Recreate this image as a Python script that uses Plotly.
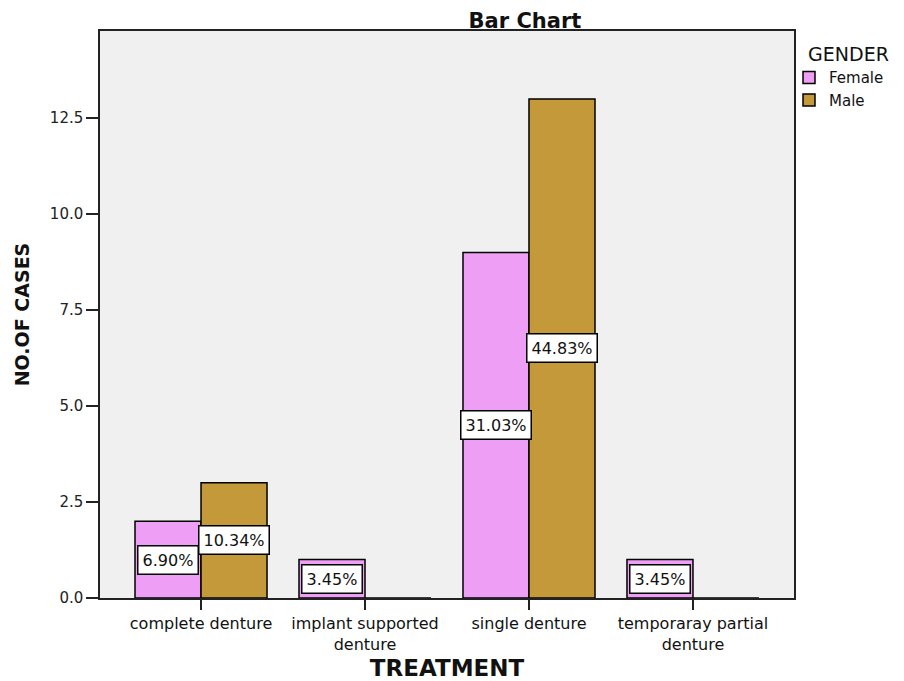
import plotly.graph_objects as go

categories = ["complete denture", "implant supported denture", "single denture", "temporaray partial denture"]
tick_labels = ["complete denture", "implant supported<br>denture", "single denture", "temporaray partial<br>denture"]
female = [2, 1, 9, 1]
male = [3, 0, 13, 0]
female_pct = ["6.90%", "3.45%", "31.03%", "3.45%"]
male_pct = ["10.34%", None, "44.83%", None]
y_ticks = [0, 2.5, 5, 7.5, 10, 12.5]

FONT = "DejaVu Sans"
FEMALE_COLOR = "#EF9EF5"
MALE_COLOR = "#C4993A"

# the page adds an 8px body margin, so the figure is 8px smaller on each axis
W, H = 896, 673

fig = go.Figure()
fig.add_trace(go.Bar(x=categories, y=female, name="Female",
                     marker=dict(color=FEMALE_COLOR, line=dict(color="black", width=1.5))))
fig.add_trace(go.Bar(x=categories, y=male, name="Male",
                     marker=dict(color=MALE_COLOR, line=dict(color="black", width=1.5))))

annotations = []
for cat, v, t in zip(categories, female, female_pct):
    if t:
        annotations.append(dict(x=cat, y=v / 2, xref="x", yref="y", xshift=-33, text=t,
                                showarrow=False, bgcolor="white", bordercolor="black",
                                borderwidth=1.5, borderpad=4,
                                font=dict(family=FONT, size=16, color="#111")))
for cat, v, t in zip(categories, male, male_pct):
    if t:
        annotations.append(dict(x=cat, y=v / 2, xref="x", yref="y", xshift=33, text=t,
                                showarrow=False, bgcolor="white", bordercolor="black",
                                borderwidth=1.5, borderpad=4,
                                font=dict(family=FONT, size=16, color="#111")))

fig.update_layout(
    width=W, height=H,
    margin=dict(l=92, r=110, t=23, b=83),
    paper_bgcolor="white",
    plot_bgcolor="#F0F0F0",
    barmode="group",
    bargap=0.195,
    bargroupgap=0,
    font=dict(family=FONT, color="#111"),
    title=dict(text="<b>Bar Chart</b>", x=517 / W, xanchor="center",
               y=1 - 13 / H, yanchor="middle", yref="container",
               font=dict(family=FONT, size=21, color="#111")),
    legend=dict(title=dict(text="\u00a0\u00a0GENDER", font=dict(family=FONT, size=19, color="#111")),
                x=1.0, xanchor="left", y=0.99, yanchor="top",
                indentation=-5,
                font=dict(family=FONT, size=15, color="#111"),
                bgcolor="rgba(0,0,0,0)", traceorder="normal"),
    annotations=annotations,
    xaxis=dict(
        type="category", categoryorder="array", categoryarray=categories,
        tickvals=categories, ticktext=tick_labels,
        range=[-0.616, 3.616],
        showline=True, linecolor="#222", linewidth=1.5, mirror=True,
        ticks="outside", ticklen=10, tickwidth=1.5, tickcolor="#222",
        showgrid=False, zeroline=False,
        tickfont=dict(family=FONT, size=16, color="#111"),
        title=dict(text="<b>TREATMENT</b>",
                   font=dict(family=FONT, size=23, color="#111")),
        automargin=False,
    ),
    yaxis=dict(
        range=[0, 14.77],
        tickvals=y_ticks, tickformat=".1f",
        showline=True, linecolor="#222", linewidth=1.5, mirror=True,
        ticks="outside", ticklen=12, tickwidth=1.5, tickcolor="#222",
        showgrid=False, zeroline=False,
        tickfont=dict(family=FONT, size=15, color="#222"),
        title=dict(text="<b>NO.OF CASES</b>",
                   font=dict(family=FONT, size=19, color="#111")),
        automargin=False,
    ),
)

fig.write_html("out.html")
